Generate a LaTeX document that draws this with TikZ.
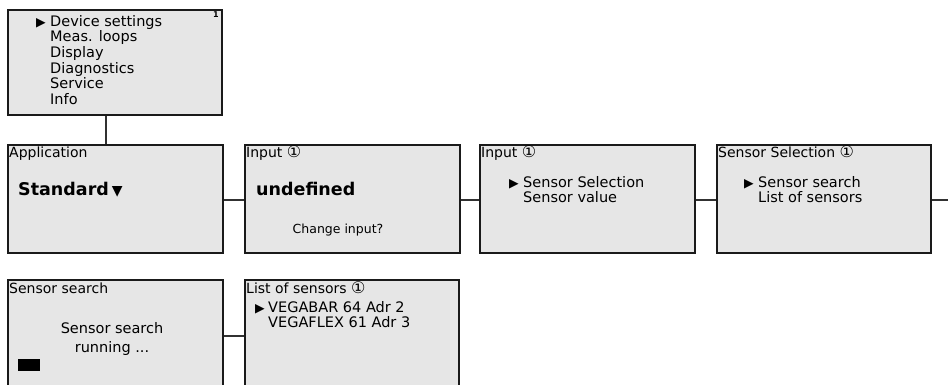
\documentclass[tikz,border=0pt]{standalone}
\usepackage{fontspec}
\setmainfont{DejaVu Sans}
\definecolor{scr}{HTML}{E6E6E6}
\definecolor{ink}{HTML}{1A1A1A}
\newcommand{\cone}{{\fontsize{16}{16}\selectfont ①}}
\begin{document}
\begin{tikzpicture}[x=1pt,y=-1pt,
 screen/.style={draw=ink, fill=scr, line width=1.8pt, anchor=north west, inner sep=0},
 wire/.style={draw=ink!90, line width=2.8pt},
 ttl/.style={inner sep=0, anchor=base west, font=\fontsize{14}{16}\selectfont},
 body/.style={inner sep=0, anchor=base west, font=\fontsize{14.5}{16}\selectfont},
 small/.style={inner sep=0, anchor=base, font=\fontsize{12.5}{14}\selectfont},
 arr/.style={inner sep=0, anchor=base west, font=\fontsize{12.5}{13}\selectfont},
 big/.style={inner sep=0, anchor=base west, font=\fontsize{17.5}{20}\bfseries\selectfont},
 ]
\clip (0,0) rectangle (948,384);
\fill[white] (0,0) rectangle (948,384);
% screens
\node[screen, minimum width=214pt, minimum height=105pt] (menu) at (7,9) {};
\node[screen, minimum width=215pt, minimum height=108pt] (app) at (7,144) {};
\node[screen, minimum width=215pt, minimum height=108pt] (inA) at (244,144) {};
\node[screen, minimum width=215pt, minimum height=108pt] (inB) at (479,144) {};
\node[screen, minimum width=214pt, minimum height=108pt] (sel) at (716,144) {};
\node[screen, minimum width=215pt, minimum height=130pt] (srch) at (7,279) {};
\node[screen, minimum width=214pt, minimum height=130pt] (list) at (244,279) {};
% connectors
\coordinate (drop) at (106,0);
\draw[wire] (menu.south -| drop) -- (app.north -| drop);
\coordinate (r2) at (0,200);
\draw[wire] (app.east |- r2) -- (inA.west |- r2);
\draw[wire] (inA.east |- r2) -- (inB.west |- r2);
\draw[wire] (inB.east |- r2) -- (sel.west |- r2);
\coordinate (exit) at (948,200);
\draw[wire] (sel.east |- exit) -- (exit);
\coordinate (r3) at (0,336);
\draw[wire] (srch.east |- r3) -- (list.west |- r3);
% main menu
\node[arr] (m0) at (36,26) {▶};
\node[body] (m1) at (50,26) {Device settings};
\node[body] (m2) at (50,41) {Meas. loops};
\node[body] (m3) at (50,57) {Display};
\node[body] (m4) at (50,73) {Diagnostics};
\node[body] (m5) at (50,88) {Service};
\node[body] (m6) at (50,104) {Info};
\node[inner sep=0, anchor=base east, font=\fontsize{8}{9}\bfseries\selectfont] (m7) at (219,17) {1};
% application
\node[ttl] (a1) at (9,157) {Application};
\node[big] (a2) at (18,195) {Standard\,{\fontsize{14}{14}\selectfont ▼}};
% input A
\node[ttl] (b1) at (246,157) {Input \cone};
\node[big] (b2) at (256,195) {undefined};
\node[small] (b3) at (338,233) {Change input?};
% input B
\node[ttl] (c1) at (481,157) {Input \cone};
\node[arr] (c0) at (509,187) {▶};
\node[body] (c2) at (523,187) {Sensor Selection};
\node[body] (c3) at (523,202) {Sensor value};
% sensor selection
\node[ttl] (d1) at (718,157) {Sensor Selection \cone};
\node[arr] (d0) at (744,187) {▶};
\node[body] (d2) at (758,187) {Sensor search};
\node[body] (d3) at (758,202) {List of sensors};
% sensor search
\node[ttl] (e1) at (9,293) {Sensor search};
\node[body, anchor=base] (e2) at (112,333) {Sensor search};
\node[body, anchor=base] (e3) at (112,352) {running ...};
\node[fill=black, inner sep=0, minimum width=22pt, minimum height=12pt, anchor=north west] (e4) at (18,359) {};
% list of sensors
\node[ttl] (f1) at (246,293) {List of sensors \cone};
\node[arr] (f0) at (255,312) {▶};
\node[body] (f2) at (268,312) {VEGABAR 64 Adr 2};
\node[body] (f3) at (268,327) {VEGAFLEX 61 Adr 3};
\end{tikzpicture}
\end{document}
